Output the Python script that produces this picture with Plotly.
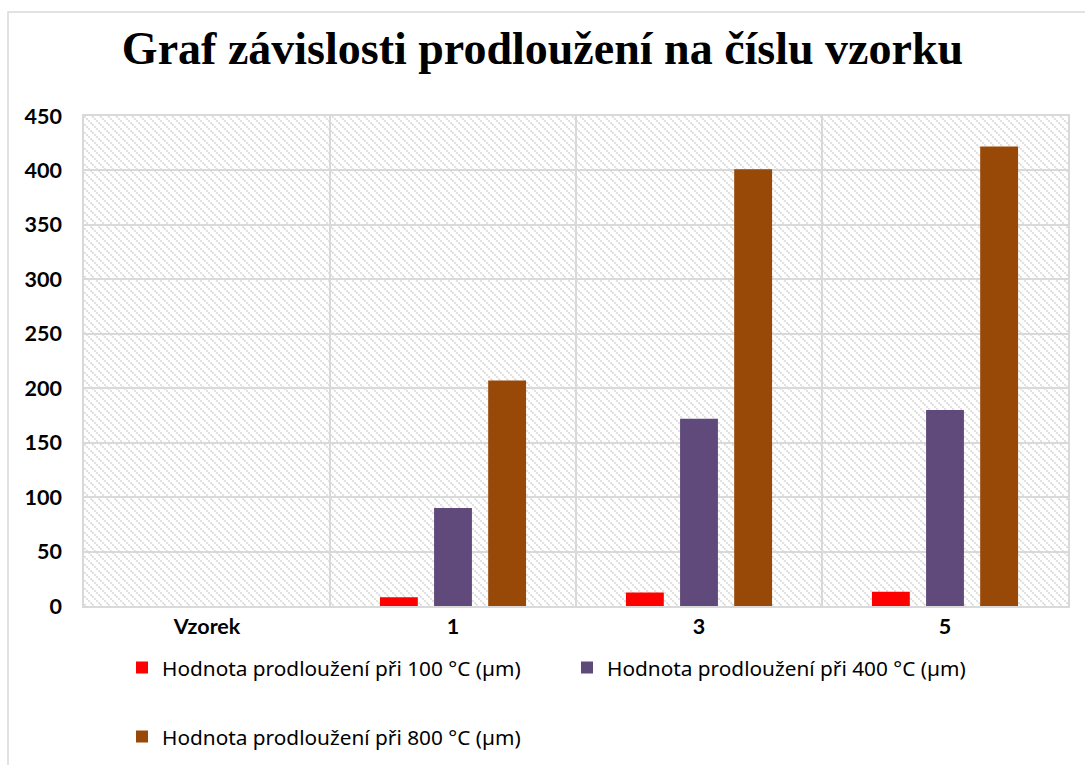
import base64
import plotly.graph_objects as go

# Categories on the x axis and the three measured series (µm)
categories = ["Vzorek", "1", "3", "5"]
series_names = [
    "Hodnota prodloužení při 100 °C (µm)",
    "Hodnota prodloužení při 400 °C (µm)",
    "Hodnota prodloužení při 800 °C (µm)",
]
values_100 = [None, 8, 12.5, 13]
values_400 = [None, 90, 172, 180]
values_800 = [None, 207, 401, 422]
series_colors = ["#ff0000", "#604a7b", "#984807"]
y_ticks = [0, 50, 100, 150, 200, 250, 300, 350, 400, 450]

W, H = 1085, 765
L, R, T, B = 84, 17, 116, 159
PW, PH = W - L - R, H - T - B

# Diagonal hatch used as the plot-area background
hatch_svg = f"""<svg xmlns='http://www.w3.org/2000/svg' width='{PW}' height='{PH}'>
<defs><pattern id='h' patternUnits='userSpaceOnUse' width='8' height='8'>
<path d='M-2,-2 L10,10 M-2,6 L2,10 M6,-2 L10,2' stroke='#d6d6d6' stroke-width='1.6' stroke-dasharray='2 1'/>
</pattern></defs>
<rect width='100%' height='100%' fill='white'/>
<rect width='100%' height='100%' fill='url(#h)'/>
</svg>"""
hatch_uri = "data:image/svg+xml;base64," + base64.b64encode(hatch_svg.encode()).decode()

fig = go.Figure()
legends = ["legend", "legend", "legend2"]
for name, vals, col, lg in zip(series_names, [values_100, values_400, values_800], series_colors, legends):
    fig.add_trace(go.Bar(
        x=categories, y=vals, name=name,
        marker=dict(color=col, line=dict(width=0)),
        legend=lg,
    ))

grid = "#d9d9d9"
label_font = dict(family="Lato", size=21.5, color="#000000", weight="bold")
legend_font = dict(family="Noto Sans", size=20.8, color="#000000")


def py(pix):
    # pixel row of the page -> paper coordinate
    return (H - B - pix) / PH


def px(pix):
    return (pix - L) / PW


fig.update_layout(
    width=W, height=H,
    margin=dict(l=L, r=R, t=T, b=B, autoexpand=False),
    paper_bgcolor="white",
    plot_bgcolor="rgba(0,0,0,0)",
    barmode="group",
    bargap=0.34,
    bargroupgap=0.3,
    title=dict(
        text="Graf závislosti prodloužení na číslu vzorku",
        font=dict(family="Liberation Serif", size=46, color="#000000", weight="bold"),
        x=542.5 / W, xref="container", xanchor="center",
        y=1 - 48 / H, yref="container", yanchor="middle",
    ),
    xaxis=dict(
        type="category",
        tickson="boundaries",
        showgrid=True, gridcolor=grid, gridwidth=1.5,
        showline=True, linecolor=grid, linewidth=1.5, mirror=True,
        ticks="outside", ticklen=19, tickcolor="rgba(0,0,0,0)",
        tickfont=label_font,
        range=[-0.5, 3.5],
    ),
    yaxis=dict(
        range=[0, 450],
        tickvals=y_ticks,
        showgrid=True, gridcolor=grid, gridwidth=1.5,
        zeroline=False,
        showline=True, linecolor=grid, linewidth=1.5, mirror=True,
        ticks="outside", ticklen=16, tickcolor="rgba(0,0,0,0)",
        tickfont=label_font,
    ),
    legend=dict(
        orientation="h", x=px(122), y=py(668), xanchor="left", yanchor="middle",
        font=legend_font, entrywidth=400, bgcolor="rgba(0,0,0,0)",
        itemclick=False, itemdoubleclick=False,
    ),
    legend2=dict(
        orientation="h", x=px(122), y=py(737), xanchor="left", yanchor="middle",
        font=legend_font, bgcolor="rgba(0,0,0,0)",
        itemclick=False, itemdoubleclick=False,
    ),
    images=[dict(
        source=hatch_uri, xref="paper", yref="paper",
        x=0, y=1, sizex=1, sizey=1, xanchor="left", yanchor="top",
        sizing="stretch", layer="below",
    )],
    shapes=[dict(
        type="rect", xref="paper", yref="paper",
        x0=px(8), x1=px(W + 10), y0=py(12), y1=py(H + 10),
        line=dict(color=grid, width=1.5), fillcolor="rgba(0,0,0,0)", layer="below",
    )],
)

fig.write_html("out.html")
